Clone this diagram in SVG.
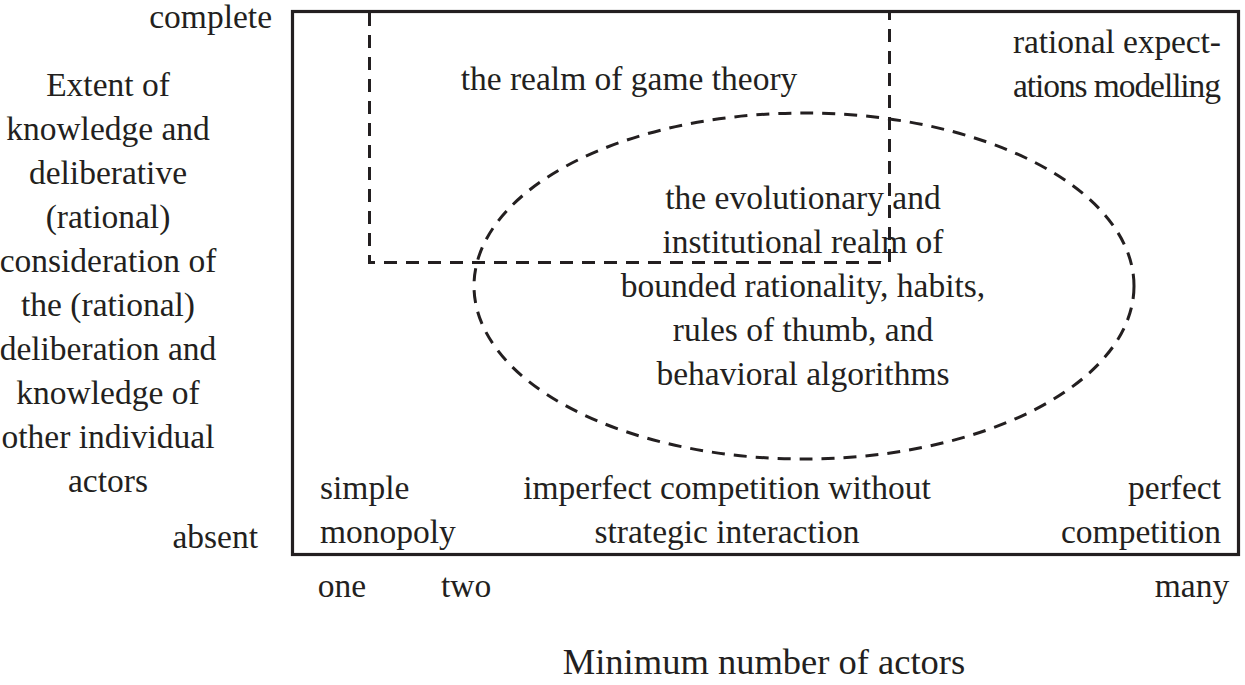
<svg xmlns="http://www.w3.org/2000/svg" width="1245" height="685" viewBox="0 0 1245 685">
<style>
text{font-family:"Liberation Serif","Times New Roman",serif;font-size:33.5px;fill:#231f20}
.m{text-anchor:middle}.e{text-anchor:end}
.d{fill:none;stroke:#231f20;stroke-width:3;stroke-dasharray:13 9}
</style>
<rect width="1245" height="685" fill="#fff"/>
<g id="frame"><rect x="292.5" y="11.5" width="946" height="543" fill="none" stroke="#231f20" stroke-width="3.2"/></g>
<g id="game-theory"><path class="d" d="M369.5 13V262.5H889.5V13"/>
<text class="m" x="629" y="90">the realm of game theory</text></g>
<g id="evolutionary"><ellipse class="d" cx="804" cy="286" rx="330" ry="173"/>
<text class="m" x="803" y="209">the evolutionary and</text>
<text class="m" x="803" y="253">institutional realm of</text>
<text class="m" x="803" y="297">bounded rationality, habits,</text>
<text class="m" x="803" y="341">rules of thumb, and</text>
<text class="m" x="803" y="385">behavioral algorithms</text></g>
<g id="rational-expectations"><text x="1013" y="53" textLength="208" lengthAdjust="spacing">rational expect-</text><text x="1013" y="97" textLength="208" lengthAdjust="spacing">ations modelling</text></g>
<g id="monopoly"><text x="320" y="499">simple</text><text x="320" y="543">monopoly</text></g>
<g id="imperfect"><text class="m" x="727" y="499">imperfect competition without</text><text class="m" x="727" y="543">strategic interaction</text></g>
<g id="perfect"><text class="e" x="1221" y="499">perfect</text><text class="e" x="1221" y="543">competition</text></g>
<g id="y-axis">
<text class="e" x="272" y="28">complete</text>
<text class="e" x="258" y="548">absent</text>
<text class="m" x="108" y="96">Extent of</text>
<text class="m" x="108" y="140">knowledge and</text>
<text class="m" x="108" y="184">deliberative</text>
<text class="m" x="108" y="228">(rational)</text>
<text class="m" x="108" y="272">consideration of</text>
<text class="m" x="108" y="316">the (rational)</text>
<text class="m" x="108" y="360">deliberation and</text>
<text class="m" x="108" y="404">knowledge of</text>
<text class="m" x="108" y="448">other individual</text>
<text class="m" x="108" y="492">actors</text></g>
<g id="x-axis">
<text class="m" x="342" y="597">one</text>
<text class="m" x="466" y="597">two</text>
<text class="m" x="1192" y="597">many</text>
<text class="m" x="764" y="674" style="font-size:36.5px">Minimum number of actors</text></g>
<g id="connectors"/>
</svg>
